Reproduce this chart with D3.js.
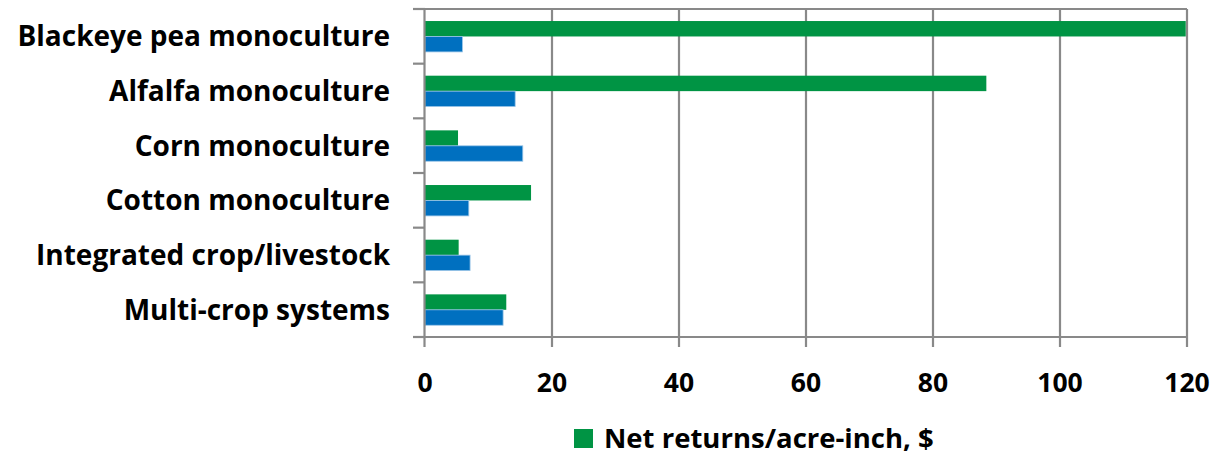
<!DOCTYPE html>
<html><head><meta charset="utf-8">
<script src="https://cdn.jsdelivr.net/npm/d3@7"></script>
<style>body{margin:0;background:#fff}svg{display:block}text{font-family:"Open Sans",sans-serif;font-weight:700;fill:#000}</style>
</head><body><svg id="c" width="1225" height="456"></svg>
<script>
const categories = ["Blackeye pea monoculture","Alfalfa monoculture","Corn monoculture","Cotton monoculture","Integrated crop/livestock","Multi-crop systems"];
const netReturns = [119.8, 88.4, 5.2, 16.7, 5.3, 12.8];
const otherSeries = [5.9, 14.2, 15.4, 6.9, 7.1, 12.3];
const xTicks = [0, 20, 40, 60, 80, 100, 120];
const legendLabel = "Net returns/acre-inch, $";

const svg = d3.select("#c");
const L = 425, R = 1187, T = 9, B = 337;
const x = d3.scaleLinear().domain([0,120]).range([L,R]);
const y = d3.scaleBand().domain(categories).range([T,B]).padding(0);
const bw = y.bandwidth();
const sub = d3.scaleBand().domain(["g","b"]).range([bw*0.22, bw*0.785]);
const grid = "#898989";

svg.append("g").selectAll("line").data(xTicks.filter(d=>d>0)).join("line")
  .attr("x1",d=>x(d)).attr("x2",d=>x(d)).attr("y1",T).attr("y2",B+10)
  .attr("stroke",grid).attr("stroke-width",2.2);
svg.append("line").attr("x1",L-12).attr("x2",R).attr("y1",T).attr("y2",T).attr("stroke",grid).attr("stroke-width",2.2);

const g = svg.append("g");
categories.forEach((c,i)=>{
  g.append("rect").attr("x",x(0)).attr("y",y(c)+sub("g")).attr("width",x(netReturns[i])-x(0)).attr("height",sub.bandwidth())
    .attr("fill","#009444");
  g.append("rect").attr("x",x(0)).attr("y",y(c)+sub("b")).attr("width",x(otherSeries[i])-x(0)).attr("height",sub.bandwidth())
    .attr("fill","#0070C0").attr("stroke","#9cc6e8").attr("stroke-width",0.8);
});

svg.append("line").attr("x1",L-0.5).attr("x2",L-0.5).attr("y1",T).attr("y2",B+10).attr("stroke",grid).attr("stroke-width",2.2);
const bounds = categories.map(c=>y(c)).concat([B]);
svg.append("g").selectAll("line").data(bounds).join("line")
  .attr("x1",L-12).attr("x2",L).attr("y1",d=>d).attr("y2",d=>d).attr("stroke",grid).attr("stroke-width",2.2);
svg.append("line").attr("x1",L-12).attr("x2",R).attr("y1",B).attr("y2",B).attr("stroke",grid).attr("stroke-width",2.2);

svg.append("g").selectAll("text").data(categories).join("text")
  .attr("x",390).attr("y",c=>y(c)+bw/2).attr("dy","0.36em").attr("text-anchor","end")
  .attr("font-size",28).text(d=>d);

svg.append("g").selectAll("text").data(xTicks).join("text")
  .attr("x",d=>x(d)).attr("y",392).attr("text-anchor","middle").attr("font-size",26.5).text(d=>d);

svg.append("rect").attr("x",574).attr("y",429).attr("width",19).attr("height",19).attr("fill","#009444");
svg.append("text").attr("x",604).attr("y",448).attr("font-size",27.5).text(legendLabel);
</script></body></html>
